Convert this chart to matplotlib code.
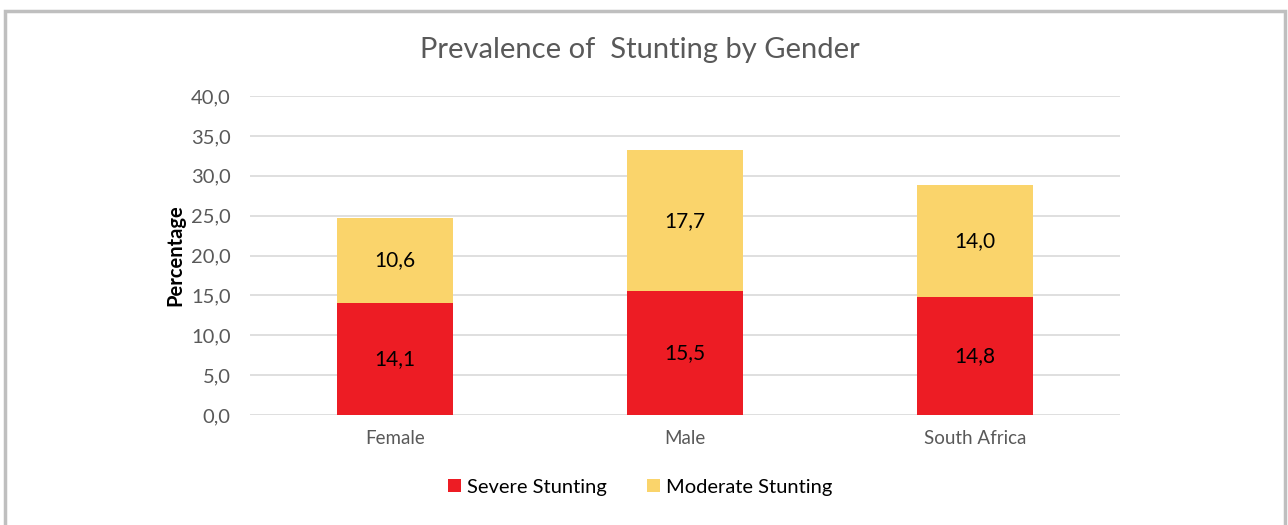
import numpy as np
import matplotlib.pyplot as plt
from matplotlib.patches import Rectangle

categories = ["Female", "Male", "South Africa"]
severe = [14.1, 15.5, 14.8]
moderate = [10.6, 17.7, 14.0]
yticks = [0, 5, 10, 15, 20, 25, 30, 35, 40]

RED = "#ED1C24"
YELLOW = "#FAD46B"

plt.rcParams['font.family'] = ['Lato', 'DejaVu Sans']

fig = plt.figure(figsize=(12.88, 5.25), dpi=100)
ax = fig.add_axes([250 / 1288, 1 - 415 / 525, 870 / 1288, 319 / 525])

x = np.arange(len(categories))
w = 0.4
b1 = ax.bar(x, severe, w, color=RED, label="Severe Stunting", zorder=3)
b2 = ax.bar(x, moderate, w, bottom=severe, color=YELLOW, label="Moderate Stunting", zorder=3)

for i in range(len(categories)):
    ax.text(x[i], severe[i] / 2, f"{severe[i]:.1f}".replace(".", ","),
            ha="center", va="center", fontsize=15, color="black", zorder=4)
    ax.text(x[i], severe[i] + moderate[i] / 2, f"{moderate[i]:.1f}".replace(".", ","),
            ha="center", va="center", fontsize=15, color="black", zorder=4)

ax.set_xlim(-0.5, 2.5)
ax.set_ylim(0, 40)
ax.set_yticks(yticks)
ax.set_yticklabels([f"{v:.1f}".replace(".", ",") for v in yticks])
ax.set_xticks(x)
ax.set_xticklabels(categories)
ax.tick_params(axis="y", length=0, labelsize=14.5, colors="#595959", pad=14)
ax.tick_params(axis="x", length=0, labelsize=13.5, colors="#595959", pad=11)
ax.grid(axis="y", color="#D9D9D9", linewidth=1.2, zorder=0)
for s in ax.spines.values():
    s.set_visible(False)

ax.set_ylabel("Percentage", fontsize=14.5, fontweight="bold", color="black", labelpad=4)
fig.text(0.497, 1 - 50 / 525, "Prevalence of  Stunting by Gender", ha="center", va="center",
         fontsize=21, color="#595959")

fig.legend(handles=[b1, b2], loc="center", bbox_to_anchor=(0.497, 1 - 487 / 525), ncol=2,
           frameon=False, fontsize=14.5, handlelength=0.65, handleheight=0.65,
           handletextpad=0.3, columnspacing=2.0)

# outer frame
fig.patches.append(Rectangle((5 / 1288, -0.05), 1280 / 1288, 1.05 - 11 / 525,
                             transform=fig.transFigure, fill=False,
                             edgecolor="#BFBFBF", linewidth=2.5))

fig.savefig("out.png", dpi=100)
